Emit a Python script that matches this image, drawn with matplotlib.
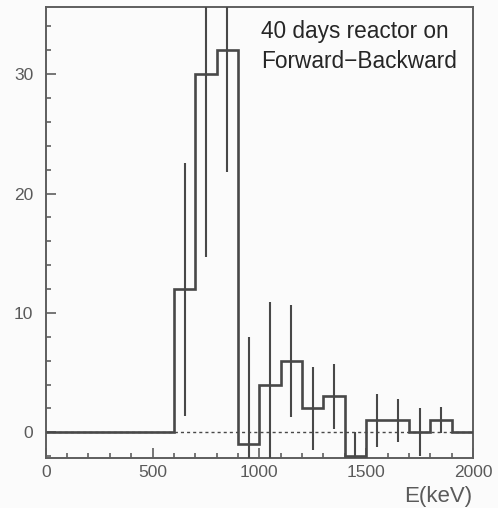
import numpy as np
import matplotlib
matplotlib.use("Agg")
import matplotlib.pyplot as plt
from matplotlib.ticker import MultipleLocator

# Forward-minus-backward energy spectrum, 100 keV bins
bin_edges = list(range(0, 2001, 100))
counts = [0, 0, 0, 0, 0, 0, 12, 30, 32, -1, 4, 6, 2, 3, -2, 1, 1, 0, 1, 0]
count_errors = [0, 0, 0, 0, 0, 0, 10.6, 15.3, 10.2, 9.0, 6.9, 4.7, 3.5, 2.7,
                2.0, 2.2, 1.8, 2.0, 1.1, 0]
x_ticks = [0, 500, 1000, 1500, 2000]
y_ticks = [0, 10, 20, 30]
title_lines = ["40 days reactor on", "Forward\u2212Backward"]
x_label = "E(keV)"

plt.rcParams["font.family"] = ["Liberation Sans", "DejaVu Sans"]

line_col = "#484848"
frame_col = "#5e5e5e"
label_col = "#5a5a5a"

fig = plt.figure(figsize=(4.98, 5.08), dpi=100, facecolor="#fbfbfb")
ax = fig.add_axes([0.0918, 0.0978, 0.8580, 0.8878], facecolor="#fbfbfb")

edges = np.array(bin_edges, dtype=float)
vals = np.array(counts, dtype=float)
errs = np.array(count_errors, dtype=float)
centers = 0.5 * (edges[:-1] + edges[1:])

# zero reference line
ax.axhline(0, color=line_col, lw=1.0, ls=(0, (2.2, 2.2)), zorder=1)

# histogram outline
ax.stairs(vals, edges, baseline=None, color=line_col, lw=1.9, zorder=3)

# statistical errors (only for populated bins)
has_err = errs > 0
ax.errorbar(centers[has_err], vals[has_err], yerr=errs[has_err], fmt="none",
            ecolor=line_col, elinewidth=1.5, capsize=0, zorder=3)

ax.set_xlim(0, 2000)
ax.set_ylim(-2.18, 35.6)

ax.set_xticks(x_ticks)
ax.set_yticks(y_ticks)
ax.xaxis.set_minor_locator(MultipleLocator(100))
ax.yaxis.set_minor_locator(MultipleLocator(2))
ax.tick_params(which="both", direction="in", top=False, right=False,
               color=frame_col, width=1.2)
ax.tick_params(which="major", length=7)
ax.tick_params(which="minor", length=3.5)
ax.tick_params(axis="x", which="major", pad=5, labelsize=12.5, labelcolor=label_col)
ax.tick_params(axis="y", which="major", pad=9, labelsize=12.5, labelcolor=label_col)

for sp in ax.spines.values():
    sp.set_color(frame_col)
    sp.set_linewidth(1.4)

# run description in the upper right
ax.text(0.504, 0.9326, title_lines[0], transform=ax.transAxes,
        fontsize=16.3, color="#262626", ha="left", va="baseline")
ax.text(0.504, 0.8654, title_lines[1], transform=ax.transAxes,
        fontsize=16.3, color="#262626", ha="left", va="baseline")

# axis title at the lower right corner
fig.text(0.948, 0.012, x_label, fontsize=16, color=label_col,
         ha="right", va="baseline")

fig.savefig("out.png", dpi=100, facecolor=fig.get_facecolor())
